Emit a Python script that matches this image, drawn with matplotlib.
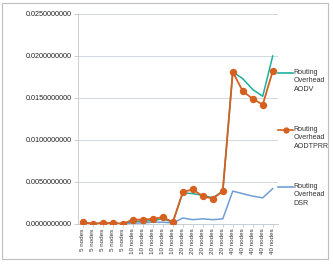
import matplotlib
matplotlib.use("Agg")
import matplotlib.pyplot as plt
from matplotlib.lines import Line2D
from matplotlib.patches import Rectangle
from matplotlib.ticker import FuncFormatter

plt.rcParams['font.family'] = ['Liberation Sans Narrow', 'Liberation Sans', 'DejaVu Sans']

# ---------------------
# Data
# ---------------------
categories = ["5 nodes"] * 5 + ["10 nodes"] * 5 + ["20 nodes"] * 5 + ["40 nodes"] * 5

aodv = [0.0002, 0.0000, 0.0001, 0.0001, 0.0000,
        0.0003, 0.0003, 0.0004, 0.0006, 0.0002,
        0.0037, 0.0036, 0.0034, 0.0031, 0.0039,
        0.0181, 0.0173, 0.0160, 0.0152, 0.0200]

aodtprr = [0.0002, 0.0000, 0.0001, 0.0001, 0.0000,
           0.0005, 0.0005, 0.0006, 0.0008, 0.0002,
           0.0038, 0.0041, 0.0033, 0.0030, 0.0039,
           0.0181, 0.0158, 0.0149, 0.0142, 0.0182]

dsr = [0.0001, 0.0000, 0.0001, 0.0001, 0.0000,
       0.0001, 0.0001, 0.0002, 0.0002, 0.0001,
       0.0007, 0.0005, 0.0006, 0.0005, 0.0006,
       0.0039, 0.0036, 0.0033, 0.0031, 0.0042]

series_names = ["Routing\nOverhead\nAODV", "Routing\nOverhead\nAODTPRR", "Routing\nOverhead\nDSR"]
colors = ["#1BAF9E", "#D5601F", "#6F9ED6"]

y_ticks = [0.0, 0.005, 0.01, 0.015, 0.02, 0.025]

# ---------------------
# Plot
# ---------------------
fig = plt.figure(figsize=(3.33, 2.64), dpi=100)
ax = fig.add_axes([0.234, 0.152, 0.60, 0.795])

x = range(len(categories))
ax.plot(x, aodv, color=colors[0], lw=1.1, zorder=3)
ax.plot(x, aodtprr, color=colors[1], lw=1.3, marker="o", ms=4.3, zorder=4)
ax.plot(x, dsr, color=colors[2], lw=1.1, zorder=3)

ax.set_xlim(-0.5, len(categories) - 0.5)
ax.set_ylim(0, 0.025)
ax.set_yticks(y_ticks)
ax.yaxis.set_major_formatter(FuncFormatter(lambda v, p: f"{v:.10f}"))
ax.set_xticks(list(x))
ax.set_xticklabels(categories, rotation=90, fontsize=4.5, color="#333333")
ax.tick_params(axis="y", labelsize=5.2, labelcolor="#222222", length=3,
               color="#BFC8CC", width=0.6, pad=1.5)
ax.tick_params(axis="x", length=2, color="#BFC8CC", width=0.6, pad=1.2)

ax.grid(axis="y", color="#C9D4D8", lw=0.6)
ax.set_axisbelow(True)
for side in ["top", "right"]:
    ax.spines[side].set_visible(False)
for side in ["left", "bottom"]:
    ax.spines[side].set_color("#BFC8CC")
    ax.spines[side].set_linewidth(0.6)

# legend on the right, key aligned with the first text line
legend_y = [0.725, 0.508, 0.293]
for name, col, yy, mk in zip(series_names, colors, legend_y, [None, "o", None]):
    fig.add_artist(Line2D([0.835, 0.858, 0.88], [yy, yy, yy], color=col, lw=1.2,
                          marker=mk, markevery=[1] if mk else None, ms=3.5))
    fig.text(0.882, yy + 0.015, name, fontsize=5.1, color="#333333", va="top",
             ha="left", linespacing=1.3)

fig.add_artist(Rectangle((0.006, 0.02), 0.979, 0.97, transform=fig.transFigure,
                         fill=False, edgecolor="#BDBDBD", lw=0.8))

fig.savefig("out.png", dpi=100)
